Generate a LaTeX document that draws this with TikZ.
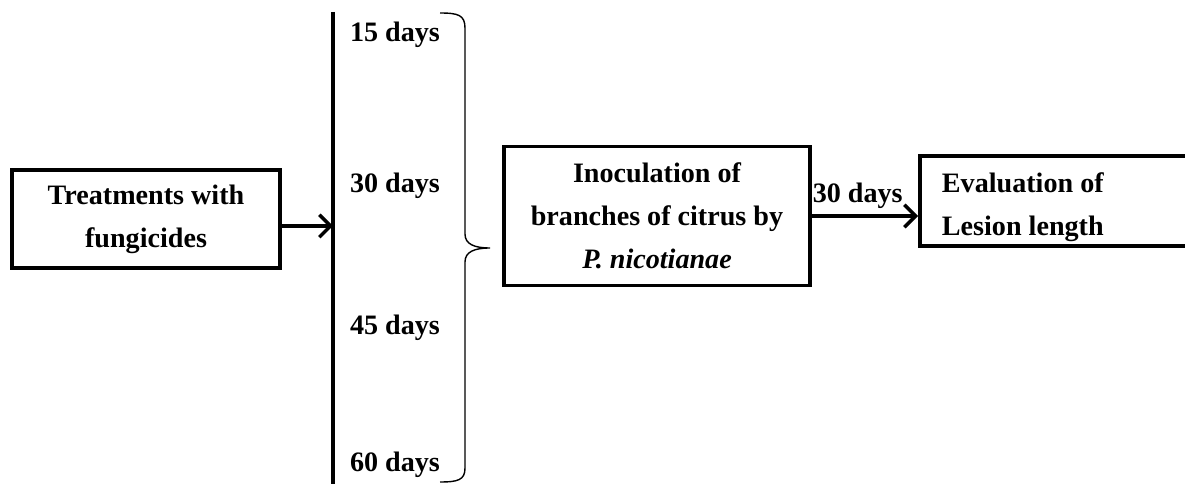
\documentclass[tikz,border=0pt]{standalone}
\usepackage{fontspec}
\setmainfont{Liberation Serif}
\usetikzlibrary{arrows.meta}

\tikzset{
  box/.style={draw, line width=2.8pt, align=center, inner sep=0pt,
    font=\fontsize{20}{30.5}\selectfont\bfseries},
  daylabel/.style={font=\fontsize{20}{24}\selectfont\bfseries},
  flow/.style={line width=2.4pt, -{Straight Barb[length=8pt,width=16pt]}}
}

\begin{document}
\begin{tikzpicture}[x=0.025cm, y=-0.025cm]

\useasboundingbox (0,0) rectangle (1185,484);

% first step: treatment box and arrow to the time axis
\node[box, minimum width=6.7cm, minimum height=2.45cm] (treat) at (146,219)
{Treatments with\\ fungicides};
\coordinate (axis) at (333,226);
\draw[line width=2.6pt] (333,12) -- (333,490);
\draw[flow] (treat.east |- axis) -- (axis);

% waiting times along the axis
\path
(395,35)  node[daylabel] (d15) {15 days}
(395,186) node[daylabel] (d30) {30 days}
(395,328) node[daylabel] (d45) {45 days}
(395,465) node[daylabel] (d60) {60 days};

% brace grouping all times
\coordinate (tip) at (490,248);
\draw[line width=1pt]
(440,13) .. controls (458,13) and (465,15) .. (465,28) -- (465,234)
.. controls (465,244) and (474,248) .. (tip)
.. controls (474,248) and (465,252) .. (465,262) -- (465,468)
.. controls (465,480) and (458,482) .. (440,482);

% inoculation and evaluation
\node[box, minimum width=7.625cm, minimum height=3.475cm] (inoc) at (657,216)
{Inoculation of\\ branches of citrus by\\ \textit{P. nicotianae}};
\node[box, anchor=west, minimum width=7.2cm, minimum height=2.25cm] (eval) at (918,201) {};
\node[box, draw=none, anchor=west, align=flush left] (evaltext) at (940,207)
{Evaluation of\\ Lesion length};
\draw[flow] (inoc.east) -- (inoc.east -| eval.west)
node[midway, above=1pt, xshift=-5pt, daylabel] (wait) {30 days};

\end{tikzpicture}
\end{document}
